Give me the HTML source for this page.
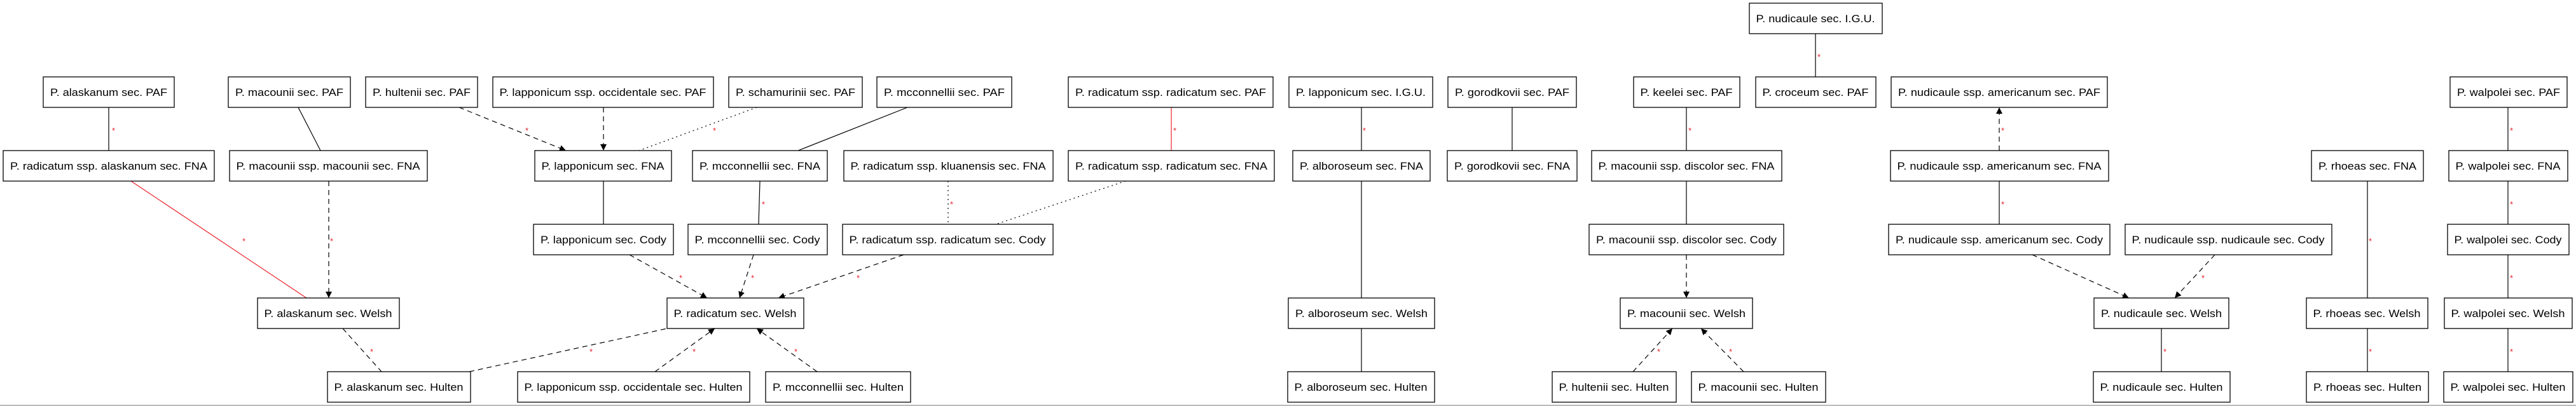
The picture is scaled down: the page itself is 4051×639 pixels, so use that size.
<!DOCTYPE html>
<html><head><meta charset="utf-8"><style>
html,body{margin:0;padding:0;background:#fff;}
svg{display:block;}
text{font-family:"Liberation Sans",Arial,sans-serif;font-size:17px;fill:#000;}
.s{fill:#e8202a;font-size:13px;}
rect{fill:#fff;stroke:#000;stroke-width:1.3;}
line{stroke:#000;stroke-width:1.2;fill:none;}
.d{stroke-dasharray:8,6;}
.o{stroke-dasharray:2,5;}
.r{stroke:#e8202a;}
</style></head><body>
<svg width="4051" height="639" viewBox="0 0 4051 639" xmlns="http://www.w3.org/2000/svg">
<defs><marker id="a" viewBox="0 0 10 10" refX="10" refY="5" markerWidth="10" markerHeight="14" markerUnits="userSpaceOnUse" orient="auto"><path d="M0,0L10,5L0,10z" fill="#000"/></marker></defs>

<!-- edges -->
<line x1="171" y1="169" x2="171" y2="237"/>
<line x1="469" y1="169" x2="504" y2="237"/>
<line class="d" x1="722" y1="169" x2="890" y2="237" marker-end="url(#a)"/>
<line class="d" x1="949" y1="169" x2="949" y2="237" marker-end="url(#a)"/>
<line class="o" x1="1190" y1="169" x2="1005" y2="237"/>
<line x1="1427" y1="169" x2="1255" y2="237"/>
<line class="r" x1="1842" y1="169" x2="1842" y2="237"/>
<line class="r" x1="206" y1="285" x2="482" y2="469"/>
<line class="d" x1="517" y1="285" x2="517" y2="469" marker-end="url(#a)"/>
<line x1="949" y1="285" x2="949" y2="353"/>
<line x1="1195" y1="285" x2="1193" y2="353"/>
<line class="o" x1="1491" y1="285" x2="1491" y2="353"/>
<line class="o" x1="1770" y1="285" x2="1566" y2="353"/>
<line class="d" x1="990" y1="401" x2="1112" y2="469" marker-end="url(#a)"/>
<line class="d" x1="1185" y1="401" x2="1163" y2="469" marker-end="url(#a)"/>
<line class="d" x1="1421" y1="401" x2="1224" y2="469" marker-end="url(#a)"/>
<line class="d" x1="539" y1="517" x2="600" y2="585"/>
<line class="d" x1="738" y1="585" x2="1049" y2="517"/>
<line class="d" x1="1030" y1="585" x2="1124" y2="517" marker-end="url(#a)"/>
<line class="d" x1="1285" y1="585" x2="1190" y2="517" marker-end="url(#a)"/>
<line x1="2855" y1="53" x2="2855" y2="121"/>
<line x1="2141" y1="169" x2="2141" y2="237"/>
<line x1="2378" y1="169" x2="2378" y2="237"/>
<line x1="2652" y1="169" x2="2652" y2="237"/>
<line x1="2141" y1="285" x2="2141" y2="469"/>
<line x1="2141" y1="517" x2="2141" y2="585"/>
<line x1="2652" y1="285" x2="2652" y2="353"/>
<line class="d" x1="2652" y1="401" x2="2652" y2="469" marker-end="url(#a)"/>
<line class="d" x1="2568" y1="585" x2="2630" y2="517" marker-end="url(#a)"/>
<line class="d" x1="2742" y1="585" x2="2675" y2="517" marker-end="url(#a)"/>
<line class="d" x1="3144" y1="237" x2="3144" y2="169" marker-end="url(#a)"/>
<line x1="3144" y1="285" x2="3144" y2="353"/>
<line class="d" x1="3196" y1="401" x2="3348" y2="469" marker-end="url(#a)"/>
<line class="d" x1="3483" y1="401" x2="3420" y2="469" marker-end="url(#a)"/>
<line x1="3399" y1="517" x2="3399" y2="585"/>
<line x1="3723" y1="285" x2="3723" y2="469"/>
<line x1="3723" y1="517" x2="3723" y2="585"/>
<line x1="3944" y1="169" x2="3944" y2="585"/>

<!-- stars -->
<text class="s" x="176" y="210">*</text>
<text class="s" x="826" y="210">*</text>
<text class="s" x="1121" y="210">*</text>
<text class="s" x="1845" y="210">*</text>
<text class="s" x="381" y="384">*</text>
<text class="s" x="519" y="384">*</text>
<text class="s" x="1198" y="326">*</text>
<text class="s" x="1494" y="326">*</text>
<text class="s" x="1068" y="442">*</text>
<text class="s" x="1181" y="442">*</text>
<text class="s" x="1347" y="442">*</text>
<text class="s" x="582" y="558">*</text>
<text class="s" x="927" y="558">*</text>
<text class="s" x="1089" y="558">*</text>
<text class="s" x="1249" y="558">*</text>
<text class="s" x="2858" y="94">*</text>
<text class="s" x="2143" y="210">*</text>
<text class="s" x="2655" y="210">*</text>
<text class="s" x="2606" y="558">*</text>
<text class="s" x="2719" y="558">*</text>
<text class="s" x="3147" y="210">*</text>
<text class="s" x="3147" y="326">*</text>
<text class="s" x="3462" y="442">*</text>
<text class="s" x="3402" y="558">*</text>
<text class="s" x="3725" y="384">*</text>
<text class="s" x="3725" y="558">*</text>
<text class="s" x="3947" y="210">*</text>
<text class="s" x="3947" y="326">*</text>
<text class="s" x="3947" y="442">*</text>
<text class="s" x="3947" y="558">*</text>

<!-- nodes -->
<g id="n">
<rect x="68" y="121" width="206" height="48"/><text x="171" y="151" text-anchor="middle" textLength="184" lengthAdjust="spacingAndGlyphs">P. alaskanum sec. PAF</text>
<rect x="359" y="121" width="192" height="48"/><text x="455" y="151" text-anchor="middle" textLength="170" lengthAdjust="spacingAndGlyphs">P. macounii sec. PAF</text>
<rect x="575" y="121" width="176" height="48"/><text x="663" y="151" text-anchor="middle" textLength="154" lengthAdjust="spacingAndGlyphs">P. hultenii sec. PAF</text>
<rect x="775" y="121" width="347" height="48"/><text x="948" y="151" text-anchor="middle" textLength="325" lengthAdjust="spacingAndGlyphs">P. lapponicum ssp. occidentale sec. PAF</text>
<rect x="1146" y="121" width="210" height="48"/><text x="1251" y="151" text-anchor="middle" textLength="188" lengthAdjust="spacingAndGlyphs">P. schamurinii sec. PAF</text>
<rect x="1379" y="121" width="212" height="48"/><text x="1485" y="151" text-anchor="middle" textLength="190" lengthAdjust="spacingAndGlyphs">P. mcconnellii sec. PAF</text>
<rect x="1680" y="121" width="322" height="48"/><text x="1841" y="151" text-anchor="middle" textLength="300" lengthAdjust="spacingAndGlyphs">P. radicatum ssp. radicatum sec. PAF</text>
<rect x="2027" y="121" width="226" height="48"/><text x="2140" y="151" text-anchor="middle" textLength="204" lengthAdjust="spacingAndGlyphs">P. lapponicum sec. I.G.U.</text>
<rect x="2277" y="121" width="202" height="48"/><text x="2378" y="151" text-anchor="middle" textLength="180" lengthAdjust="spacingAndGlyphs">P. gorodkovii sec. PAF</text>
<rect x="2569" y="121" width="167" height="48"/><text x="2652" y="151" text-anchor="middle" textLength="145" lengthAdjust="spacingAndGlyphs">P. keelei sec. PAF</text>
<rect x="2751" y="5" width="209" height="48"/><text x="2855" y="35" text-anchor="middle" textLength="187" lengthAdjust="spacingAndGlyphs">P. nudicaule sec. I.G.U.</text>
<rect x="2761" y="121" width="189" height="48"/><text x="2855" y="151" text-anchor="middle" textLength="167" lengthAdjust="spacingAndGlyphs">P. croceum sec. PAF</text>
<rect x="2974" y="121" width="340" height="48"/><text x="3144" y="151" text-anchor="middle" textLength="318" lengthAdjust="spacingAndGlyphs">P. nudicaule ssp. americanum sec. PAF</text>
<rect x="3853" y="121" width="184" height="48"/><text x="3945" y="151" text-anchor="middle" textLength="162" lengthAdjust="spacingAndGlyphs">P. walpolei sec. PAF</text>

<rect x="5" y="237" width="332" height="48"/><text x="171" y="267" text-anchor="middle" textLength="310" lengthAdjust="spacingAndGlyphs">P. radicatum ssp. alaskanum sec. FNA</text>
<rect x="361" y="237" width="311" height="48"/><text x="516" y="267" text-anchor="middle" textLength="289" lengthAdjust="spacingAndGlyphs">P. macounii ssp. macounii sec. FNA</text>
<rect x="841" y="237" width="215" height="48"/><text x="948" y="267" text-anchor="middle" textLength="193" lengthAdjust="spacingAndGlyphs">P. lapponicum sec. FNA</text>
<rect x="1089" y="237" width="212" height="48"/><text x="1195" y="267" text-anchor="middle" textLength="190" lengthAdjust="spacingAndGlyphs">P. mcconnellii sec. FNA</text>
<rect x="1327" y="237" width="329" height="48"/><text x="1491" y="267" text-anchor="middle" textLength="307" lengthAdjust="spacingAndGlyphs">P. radicatum ssp. kluanensis sec. FNA</text>
<rect x="1680" y="237" width="324" height="48"/><text x="1842" y="267" text-anchor="middle" textLength="302" lengthAdjust="spacingAndGlyphs">P. radicatum ssp. radicatum sec. FNA</text>
<rect x="2033" y="237" width="216" height="48"/><text x="2141" y="267" text-anchor="middle" textLength="194" lengthAdjust="spacingAndGlyphs">P. alboroseum sec. FNA</text>
<rect x="2276" y="237" width="204" height="48"/><text x="2378" y="267" text-anchor="middle" textLength="182" lengthAdjust="spacingAndGlyphs">P. gorodkovii sec. FNA</text>
<rect x="2503" y="237" width="299" height="48"/><text x="2652" y="267" text-anchor="middle" textLength="277" lengthAdjust="spacingAndGlyphs">P. macounii ssp. discolor sec. FNA</text>
<rect x="2973" y="237" width="343" height="48"/><text x="3144" y="267" text-anchor="middle" textLength="321" lengthAdjust="spacingAndGlyphs">P. nudicaule ssp. americanum sec. FNA</text>
<rect x="3635" y="237" width="176" height="48"/><text x="3723" y="267" text-anchor="middle" textLength="154" lengthAdjust="spacingAndGlyphs">P. rhoeas sec. FNA</text>
<rect x="3851" y="237" width="187" height="48"/><text x="3944" y="267" text-anchor="middle" textLength="165" lengthAdjust="spacingAndGlyphs">P. walpolei sec. FNA</text>

<rect x="839" y="353" width="220" height="48"/><text x="949" y="383" text-anchor="middle" textLength="198" lengthAdjust="spacingAndGlyphs">P. lapponicum sec. Cody</text>
<rect x="1082" y="353" width="219" height="48"/><text x="1191" y="383" text-anchor="middle" textLength="197" lengthAdjust="spacingAndGlyphs">P. mcconnellii sec. Cody</text>
<rect x="1325" y="353" width="331" height="48"/><text x="1490" y="383" text-anchor="middle" textLength="309" lengthAdjust="spacingAndGlyphs">P. radicatum ssp. radicatum sec. Cody</text>
<rect x="2499" y="353" width="306" height="48"/><text x="2652" y="383" text-anchor="middle" textLength="284" lengthAdjust="spacingAndGlyphs">P. macounii ssp. discolor sec. Cody</text>
<rect x="2970" y="353" width="348" height="48"/><text x="3144" y="383" text-anchor="middle" textLength="326" lengthAdjust="spacingAndGlyphs">P. nudicaule ssp. americanum sec. Cody</text>
<rect x="3342" y="353" width="325" height="48"/><text x="3504" y="383" text-anchor="middle" textLength="303" lengthAdjust="spacingAndGlyphs">P. nudicaule ssp. nudicaule sec. Cody</text>
<rect x="3849" y="353" width="191" height="48"/><text x="3944" y="383" text-anchor="middle" textLength="169" lengthAdjust="spacingAndGlyphs">P. walpolei sec. Cody</text>

<rect x="405" y="469" width="223" height="48"/><text x="516" y="499" text-anchor="middle" textLength="201" lengthAdjust="spacingAndGlyphs">P. alaskanum sec. Welsh</text>
<rect x="1049" y="469" width="215" height="48"/><text x="1156" y="499" text-anchor="middle" textLength="193" lengthAdjust="spacingAndGlyphs">P. radicatum sec. Welsh</text>
<rect x="2026" y="469" width="230" height="48"/><text x="2141" y="499" text-anchor="middle" textLength="208" lengthAdjust="spacingAndGlyphs">P. alboroseum sec. Welsh</text>
<rect x="2548" y="469" width="208" height="48"/><text x="2652" y="499" text-anchor="middle" textLength="186" lengthAdjust="spacingAndGlyphs">P. macounii sec. Welsh</text>
<rect x="3293" y="469" width="212" height="48"/><text x="3399" y="499" text-anchor="middle" textLength="190" lengthAdjust="spacingAndGlyphs">P. nudicaule sec. Welsh</text>
<rect x="3627" y="469" width="191" height="48"/><text x="3722" y="499" text-anchor="middle" textLength="169" lengthAdjust="spacingAndGlyphs">P. rhoeas sec. Welsh</text>
<rect x="3844" y="469" width="201" height="48"/><text x="3944" y="499" text-anchor="middle" textLength="179" lengthAdjust="spacingAndGlyphs">P. walpolei sec. Welsh</text>

<rect x="515" y="585" width="225" height="48"/><text x="627" y="615" text-anchor="middle" textLength="203" lengthAdjust="spacingAndGlyphs">P. alaskanum sec. Hulten</text>
<rect x="814" y="585" width="365" height="48"/><text x="996" y="615" text-anchor="middle" textLength="343" lengthAdjust="spacingAndGlyphs">P. lapponicum ssp. occidentale sec. Hulten</text>
<rect x="1204" y="585" width="228" height="48"/><text x="1318" y="615" text-anchor="middle" textLength="206" lengthAdjust="spacingAndGlyphs">P. mcconnellii sec. Hulten</text>
<rect x="2025" y="585" width="231" height="48"/><text x="2140" y="615" text-anchor="middle" textLength="209" lengthAdjust="spacingAndGlyphs">P. alboroseum sec. Hulten</text>
<rect x="2441" y="585" width="195" height="48"/><text x="2538" y="615" text-anchor="middle" textLength="173" lengthAdjust="spacingAndGlyphs">P. hultenii sec. Hulten</text>
<rect x="2660" y="585" width="211" height="48"/><text x="2765" y="615" text-anchor="middle" textLength="189" lengthAdjust="spacingAndGlyphs">P. macounii sec. Hulten</text>
<rect x="3292" y="585" width="215" height="48"/><text x="3399" y="615" text-anchor="middle" textLength="193" lengthAdjust="spacingAndGlyphs">P. nudicaule sec. Hulten</text>
<rect x="3627" y="585" width="192" height="48"/><text x="3723" y="615" text-anchor="middle" textLength="170" lengthAdjust="spacingAndGlyphs">P. rhoeas sec. Hulten</text>
<rect x="3843" y="585" width="203" height="48"/><text x="3944" y="615" text-anchor="middle" textLength="181" lengthAdjust="spacingAndGlyphs">P. walpolei sec. Hulten</text>
</g>
<line x1="0" y1="638" x2="4051" y2="638" style="stroke:#bbb;stroke-width:2"/>
</svg>
</body></html>
